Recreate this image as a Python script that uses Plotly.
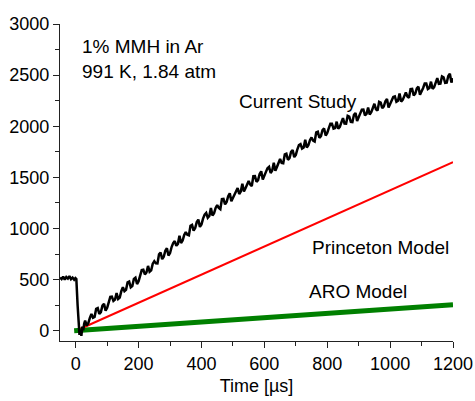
import plotly.graph_objects as go

# Measured trace (Current Study), time in microseconds
t_early = [-50, -45, -40, -35, -30, -25, -20, -15, -10, -5, -1, 2, 6, 9, 12, 15, 18, 21, 24, 27]
v_early = [520, 505, 530, 500, 525, 510, 535, 505, 520, 500, 515, 505, 250, 20, -40, 10, -50, 40, 5, 70]

t_main = list(range(30, 1201, 10))
v_main = [100, 75, 165, 136, 222, 183, 264, 225, 331, 292,
          368, 324, 425, 401, 482, 438, 519, 485, 593, 551,
          634, 592, 680, 658, 766, 724, 807, 760, 858, 831,
          929, 882, 965, 933, 1036, 1004, 1087, 1040, 1135, 1105,
          1200, 1150, 1230, 1190, 1290, 1260, 1345, 1300, 1376, 1337,
          1438, 1394, 1465, 1416, 1512, 1473, 1559, 1510, 1589, 1543,
          1642, 1601, 1680, 1638, 1731, 1689, 1767, 1720, 1816, 1782,
          1868, 1814, 1890, 1851, 1947, 1903, 1979, 1935, 2024, 1977,
          2045, 1993, 2080, 2025, 2095, 2040, 2130, 2090, 2163, 2106,
          2184, 2137, 2220, 2153, 2231, 2194, 2267, 2210, 2287, 2239,
          2321, 2258, 2330, 2278, 2366, 2319, 2387, 2335, 2417, 2364,
          2436, 2383, 2470, 2417, 2479, 2426, 2513, 2470]

t_mid = list(range(35, 1196, 10))
v_mid = [51, 127, 128, 214, 165, 246, 197, 278, 334, 305,
         311, 387, 388, 474, 425, 506, 457, 539, 597, 570,
         578, 656, 659, 747, 700, 783, 736, 819, 877, 850,
         858, 936, 939, 1027, 980, 1063, 1016, 1097, 1152, 1122,
         1127, 1202, 1202, 1287, 1237, 1317, 1267, 1345, 1396, 1362,
         1363, 1434, 1430, 1511, 1457, 1533, 1479, 1554, 1603, 1567,
         1566, 1642, 1641, 1724, 1672, 1750, 1698, 1775, 1826, 1792,
         1793, 1864, 1860, 1941, 1887, 1963, 1909, 1982, 2025, 1983,
         1976, 2038, 2027, 2102, 2042, 2112, 2052, 2122, 2164, 2122,
         2115, 2178, 2166, 2239, 2177, 2245, 2183, 2251, 2292, 2249,
         2241, 2303, 2291, 2364, 2302, 2370, 2308, 2375, 2417, 2374,
         2366, 2428, 2415, 2487, 2424, 2491, 2428]

# Model predictions
t_princeton = [15, 1200]
v_princeton = [20, 1650]
t_aro = [-5, 1200]
v_aro = [0, 255]

pairs = sorted(list(zip(t_early, v_early)) + list(zip(t_main, v_main)) + list(zip(t_mid, v_mid)))
t_current = [p[0] for p in pairs]
v_current = [p[1] for p in pairs]

FONT = "Liberation Sans, Arial, sans-serif"

fig = go.Figure()
fig.add_trace(go.Scatter(x=t_aro, y=v_aro, mode="lines",
                         line=dict(color="rgb(0,128,0)", width=5), showlegend=False))
fig.add_trace(go.Scatter(x=t_princeton, y=v_princeton, mode="lines",
                         line=dict(color="rgb(255,0,0)", width=2), showlegend=False))
fig.add_trace(go.Scatter(x=t_current, y=v_current, mode="lines",
                         line=dict(color="black", width=2.5), showlegend=False))

ann_font = dict(family=FONT, size=19, color="black")
fig.add_annotation(x=15, y=2661, xref="x", yref="y", text="1% MMH in Ar<br>991 K, 1.84 atm",
                   showarrow=False, xanchor="left", yanchor="middle", align="left", font=ann_font)
fig.add_annotation(x=707, y=2243, xref="x", yref="y", text="Current Study",
                   showarrow=False, xanchor="center", yanchor="middle", font=ann_font)
fig.add_annotation(x=745, y=812, xref="x", yref="y", text="Princeton Model",
                   showarrow=False, xanchor="left", yanchor="middle", font=ann_font)
fig.add_annotation(x=735, y=385, xref="x", yref="y", text="ARO Model",
                   showarrow=False, xanchor="left", yanchor="middle", font=ann_font)

axis_common = dict(showline=True, linecolor="#222", linewidth=1.3, ticks="outside",
                   ticklen=6, tickwidth=1.2, tickcolor="#222", showgrid=False, zeroline=False,
                   automargin=False,
                   tickfont=dict(family=FONT, size=18, color="black"))

fig.update_xaxes(range=[-50, 1200], dtick=200, tick0=0,
                 minor=dict(ticks="outside", dtick=100, ticklen=3.5, tickcolor="#222", tickwidth=1.2),
                 title=dict(text="Time [µs]", font=dict(family=FONT, size=18, color="black"), standoff=6),
                 **axis_common)
fig.update_yaxes(range=[-100, 3000], dtick=500, tick0=0,
                 minor=dict(ticks="outside", dtick=250, ticklen=3.5, tickcolor="#222", tickwidth=1.2),
                 **axis_common)

fig.update_layout(width=475, height=401, margin=dict(l=60, r=22, t=24, b=60),
                  plot_bgcolor="white", paper_bgcolor="white", showlegend=False)

fig.write_html("out.html", config={"displayModeBar": False},
               post_script="document.body.style.margin='0';document.body.style.overflow='hidden';")
